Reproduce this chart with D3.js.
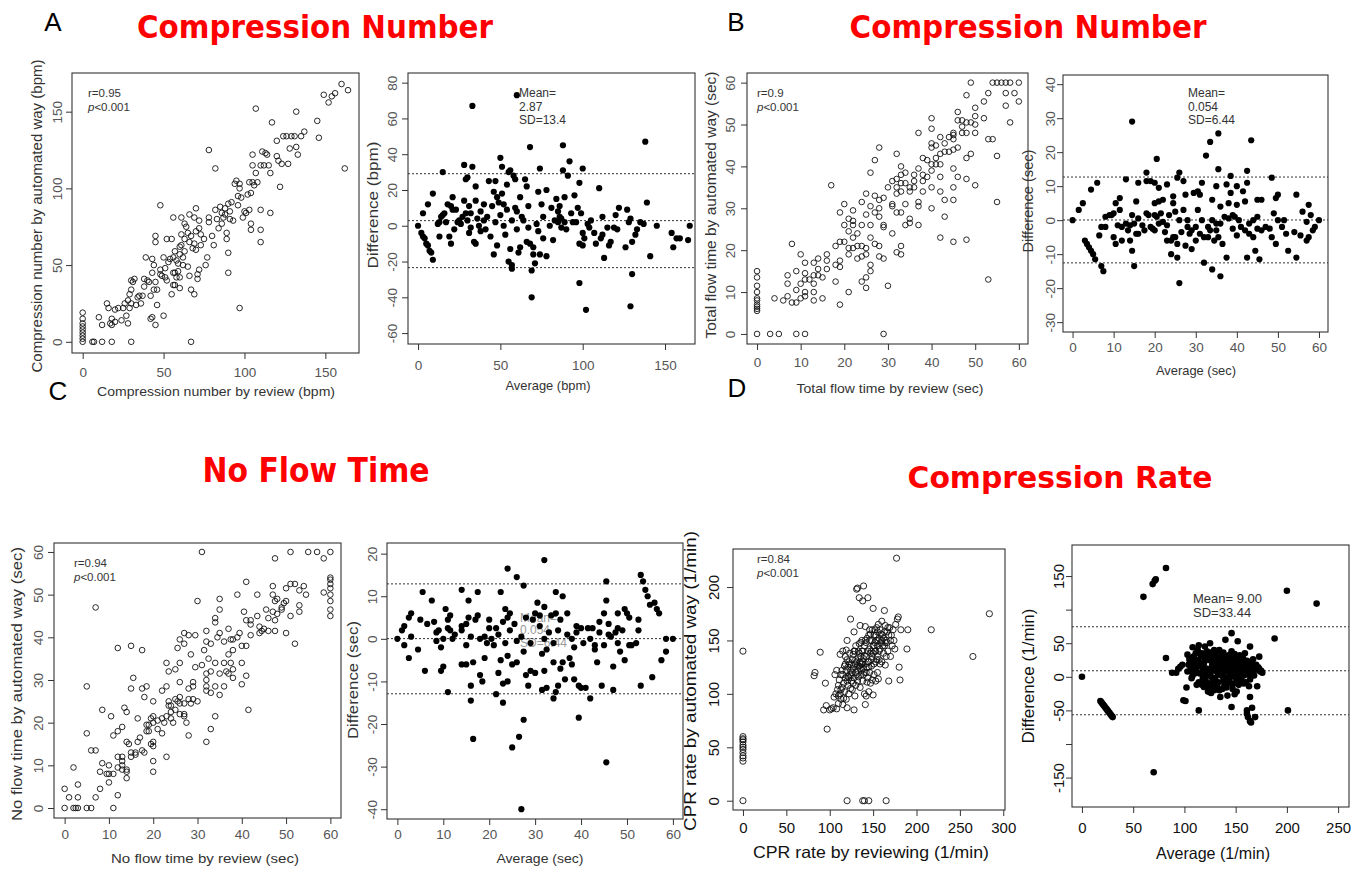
<!DOCTYPE html>
<html><head><meta charset="utf-8">
<script src="https://cdn.jsdelivr.net/npm/d3@7"></script>
<style>body{margin:0;background:#fff}svg{display:block;font-family:"Liberation Sans",Arial,sans-serif}</style>
</head><body><svg id="c" width="1367" height="873"></svg>
<script>
// ---------------- DATA ----------------
// A: Compression number, scatter (review, automated)
const cnScatter = [[0,0],[0,2],[0,4],[0,6],[0,8],[0,10],[0,12],[0,15],[0,19],[6,0],[7,0],[12,0],[18,0],[30,0],[67,0],
[10,16],[12,11],[15,25],[16,22],[17,12],[18,11],[18,15],[20,13],[20,21],[22,22],[24,14],[25,22],[26,25],[27,17],[28,12],[28,27],[29,22],[29,31],[30,34],[30,25],[30,40],[31,39],[32,41],[33,24],[34,29],[35,30],[36,25],[37,30],[38,41],[38,36],[39,55],[40,40],[41,39],[42,15],[42,30],[43,16],[43,45],[43,54],[44,50],[44,34],[45,11],[45,39],[45,65],[45,69],[46,34],[46,24],[48,89],[48,47],[48,44],[49,43],[50,17],[50,55],[51,48],[51,42],[52,40],[52,67],[53,52],[54,54],[55,67],[55,31],[56,45],[56,37],[56,55],[56,81],[57,59],[57,45],[57,37],[58,42],[58,53],[59,51],[59,46],[60,42],[60,35],[60,57],[60,62],[61,81],[61,63],[61,70],[62,55],[62,50],[63,77],[63,67],[63,59],[64,75],[65,49],[65,71],[66,83],[66,65],[66,43],[67,34],[67,69],[68,61],[69,81],[69,31],[69,64],[70,60],[70,72],[70,87],[71,41],[71,44],[72,47],[72,79],[72,74],[73,63],[73,70],[75,67],[76,50],[77,55],[78,125],[78,78],[78,81],[80,69],[81,63],[82,113],[82,86],[83,80],[84,74],[85,88],[86,84],[86,77],[87,81],[88,87],[88,83],[89,71],[89,67],[90,45],[90,58],[90,90],[91,85],[91,80],[92,91],[93,79],[94,103],[95,105],[96,89],[96,95],[97,100],[97,22],[97,103],[98,94],[99,81],[100,85],[101,84],[102,96],[103,104],[103,86],[104,97],[104,73],[104,77],[105,104],[105,122],[105,115],[106,102],[107,152],[107,110],[108,104],[110,115],[110,73],[110,86],[110,65],[111,124],[112,115],[113,123],[114,122],[115,115],[116,84],[116,110],[117,143],[120,121],[120,131],[121,118],[122,101],[123,116],[124,134],[126,134],[127,116],[128,126],[129,134],[131,134],[132,150],[132,127],[133,122],[135,134],[137,137],[145,144],[146,133],[149,161],[152,156],[154,160],[156,162],[160,168],[162,113],[164,164]];
// A: Compression number, Bland-Altman (average, difference)
const cnBland = [[0,0],[2,-4],[3,-6],[3,7],[4,-7],[5,-10],[6,12],[6,-11],[7,-14],[8,-15],[9,18],[9,-19],[12,1],[13,-6],[13,2],[14,5],[15,30],[15,6],[16,7],[17,2],[18,12],[19,-6],[20,-10],[20,11],[21,16],[21,9],[22,-2],[23,9],[24,2],[25,3],[26,1],[27,5],[28,14],[28,34],[29,7],[29,26],[30,27],[30,3],[31,11],[31,-4],[32,-1],[32,7],[33,33],[33,67],[34,-9],[35,22],[35,-10],[35,14],[36,4],[37,0],[38,-3],[38,8],[40,12],[40,3],[41,-2],[42,5],[43,25],[44,-6],[45,11],[46,19],[46,-16],[47,25],[47,2],[48,16],[48,-11],[49,13],[50,38],[50,6],[51,33],[51,18],[52,0],[52,12],[53,-5],[54,23],[54,9],[55,-20],[55,30],[56,31],[56,-13],[57,-22],[57,-24],[57,3],[58,28],[59,26],[59,10],[60,73],[60,-2],[60,8],[61,-15],[62,16],[62,-12],[63,5],[64,3],[65,26],[66,22],[66,-9],[67,11],[67,-1],[68,44],[68,-10],[69,-25],[69,-40],[70,-12],[70,-16],[71,-21],[72,1],[73,19],[73,-3],[74,32],[74,-16],[75,12],[76,-7],[76,5],[78,20],[78,-17],[80,0],[81,10],[82,-8],[83,3],[84,15],[85,2],[85,8],[86,11],[86,5],[87,4],[87,-1],[88,45],[88,31],[89,2],[89,16],[90,-2],[91,28],[92,36],[93,7],[94,2],[95,17],[96,2],[97,10],[98,-10],[98,24],[98,-32],[99,7],[100,32],[100,-11],[100,-4],[101,-7],[102,-47],[103,1],[104,-1],[105,3],[107,-4],[108,-10],[110,21],[111,-7],[112,5],[112,-5],[113,-18],[115,-1],[116,-11],[117,-9],[119,-1],[120,6],[121,-2],[122,10],[126,-12],[127,9],[128,2],[129,4],[129,-45],[130,-27],[130,-9],[132,-5],[133,-2],[135,2],[137,1],[138,47],[139,13],[141,-17],[145,0],[154,-4],[155,-12],[157,-7],[159,-7],[164,-8],[165,0]];
// B: Total flow time, scatter
const tfScatter = [[0,15],[0,13.5],[0,11.5],[0,10],[0,8.5],[0,8],[0,7],[0,6.5],[0,6],[0,5.5],[0,0],[3,0],[5,0],[9,0],[11,0],[29,0],
[4,8.5],[6,8],[7,9],[7,12],[7,14],[8,21.5],[8,7.5],[9,15],[9,10.5],[9,7.5],[10,12],[10,8.5],[10,19],[11,17],[11,13],[11,10],[11,9],[11,14.5],[12,13],[13,17],[13,14],[13,12],[13,8],[13,10],[14,18],[14,15.5],[14,14],[15,8.5],[15,13.5],[16,19],[16,17.5],[16,15.5],[17,35.5],[18,16.5],[18,12.5],[18,21],[19,22],[19,29],[19,17.5],[19,16],[19,7],[20,31],[20,26],[20,22],[21,27.5],[21,24.5],[21,20.5],[21,19],[21,10],[22,29.5],[22,27],[22,23],[22,20.5],[22,26],[23,24],[23,21],[23,18],[24,31.5],[24,26],[24,21],[24,18.5],[24,12.5],[25,33.5],[25,28.5],[25,20.5],[25,19],[25,13.5],[25,11],[26,38.5],[26,30.5],[26,26],[26,23],[26,16.5],[26,15],[27,41.5],[27,33],[27,29],[27,21.5],[28,44.5],[28,32],[28,30],[28,28],[28,18.5],[28,21],[29,32.5],[29,26],[29,25.5],[29,18],[30,11.5],[30,35],[31,36.5],[31,31],[31,30.5],[31,24],[32,43],[32,37],[32,35],[32,33.5],[32,29],[32,19.5],[33,40],[33,38],[33,36],[33,34],[33,29],[33,21],[33,19],[34,38.5],[34,36],[34,31],[34,26],[35,35],[35,34],[35,27.5],[35,26.5],[36,38],[36,36.5],[36,35],[37,48],[37,39.5],[37,31.5],[37,30.5],[37,26],[38,42],[38,38],[38,36.5],[38,34],[39,41.5],[39,37.5],[40,51.5],[40,49],[40,45.5],[40,44.5],[40,40.5],[40,39],[40,35],[40,30],[41,45],[41,42],[41,40.5],[42,47],[42,43],[42,40.5],[42,37.5],[42,34],[42,23],[43,45.5],[43,32],[43,28],[43,43.5],[44,43.5],[44,47],[45,48],[45,47.5],[45,46.5],[45,44],[45,39.5],[45,35],[45,32],[45,22],[46,53],[46,51],[46,44.5],[46,37.5],[47,51],[47,49.5],[47,48],[48,57],[48,50.5],[48,48],[48,42],[48,37],[48,22.5],[49,60],[49,50.5],[49,43],[50,54],[50,52],[50,50],[50,48],[50,35.5],[52,55.5],[52,51.5],[53,57.5],[53,46.5],[53,13],[54,60],[54,46.5],[55,60],[55,42.5],[55,31.5],[56,60],[57,60],[57,57.5],[57,54.5],[58,60],[58,50.5],[59,57.5],[60,60],[60,55.5]];
// B: Total flow time, Bland-Altman
const tfBland = [[0,0],[1.5,3],[2.5,5],[3,-6],[3.5,-7],[4,-8],[4.5,-9],[4.5,9],[5,-10],[5.5,-11.5],[6,11],[6.5,-4.5],[7,-13.5],[7,-2],[7.5,-15],[8,1],[8,-2],[9,1.5],[9.5,1.5],[10,-5],[10,2],[10.5,5],[10.5,-7],[11,-1.5],[11.5,6.5],[11.5,3],[12,-6],[12,-2],[13,12],[13,-1],[13.5,-3],[14,-1.5],[14,-6],[14.5,29],[14.5,-9],[14.5,1.5],[15,-13.5],[15,-1],[15.5,5.5],[15.5,-4],[16,11],[16,0.5],[16,-4],[17,-1.5],[17.5,-3],[18,14],[18,11.5],[18,2],[18.5,1.5],[19,11.5],[19,-2],[19.5,-2.5],[20,11],[20,5],[20,1.5],[20,-3],[20.5,18],[20.5,1],[21,5.5],[21,9.5],[21,-1],[21.5,2],[22,6],[22,-0.5],[22.5,-3.5],[23,10.5],[23,-1.5],[23,-6],[23.5,1.5],[24,-10],[24,-6],[24.5,7],[24.5,5],[24.5,-5],[25,2.5],[25,-5],[25.5,-11],[25.5,12.5],[25.5,-7],[26,14],[26,0],[26,-18.5],[26.5,-3.5],[27,11.5],[27,3],[27.5,7.5],[27.5,-7.5],[28,0],[28,-2],[28.5,-4],[29,-3],[29,-8.5],[29.5,8],[30,-6],[30,-2],[30.5,8.5],[30.5,3],[31,-4],[31,7.5],[31.5,11],[31.5,0],[32,-12.5],[32,-5],[32.5,19],[33,-2],[33,-5],[33.5,23],[33.5,-3],[34,6],[34,0],[34,-14.5],[34.5,-6],[35,10],[35,-1],[35,-3],[35.5,25.5],[35.5,15],[35.5,-5],[36,4],[36,-1],[36,-16.5],[36.5,-7],[37,1],[37.5,10.5],[37.5,-11],[38,5],[38,0.5],[38.5,8],[38.5,13],[39,1.5],[39,-2.5],[39.5,1],[40,10],[40,4.5],[40,-4.5],[40.5,0],[41,-2],[41.5,8.5],[42,-3],[42,5.5],[42.5,11],[42.5,14.5],[42.5,-11],[43,-4],[43,-1],[43.5,23.5],[44,0],[44,-5],[44.5,-9],[45,6],[45,1],[45,-2.5],[45.5,-11.5],[46,6],[46,-3],[47,-2],[48,-2.5],[48.5,-5],[48.5,12.5],[49,2],[49.5,-7],[49.5,6.5],[50,7.5],[50,0],[51,-2],[51.5,0],[52,-4],[52.5,-9],[54,-3.5],[54.5,7.5],[54.5,-11],[55.5,-4.5],[56,2.5],[57,-6],[57,-0.5],[57.5,-5],[57.5,4.5],[58,1.5],[58.5,-3],[59,-2],[60,0]];
// C: No flow time, scatter
const nfScatter = [[0,0],[0,4.5],[1,2.5],[2,0],[2,9.5],[2.5,0],[3,0],[3,2.5],[3,5.5],[5,0],[5,17.5],[5,28.5],[6,0],[6,13.5],[7,13.5],[7,2.5],[7,47],[8,4.5],[8,8.5],[8.5,10.5],[8.5,23],[9.5,8],[10,8],[10,6],[10,10],[10.5,21.5],[11,0],[11,8],[11,17],[12,3],[12,9.5],[12,12],[12,18],[12,37.5],[13,9],[13,10],[13,11],[13,12],[13,19],[13.5,23.5],[14,7],[14,8.5],[14,9],[14,15.5],[14,22.5],[14.5,15],[15,12],[15,13],[15,28],[15,38],[15.5,30.5],[16,12.5],[16,13],[16.5,15.5],[16.5,21],[17,16.5],[17.5,13.5],[17.5,28],[17.5,37],[18,13],[18,26],[18.5,28.5],[18.5,19.5],[18.5,18],[19,19.5],[19,18],[19.5,15],[19.5,21],[20,8.5],[20,11],[20,14.5],[20,15.5],[20,20],[20,25],[20,21.5],[21,18.5],[21,20.5],[22,17.5],[22,27.5],[22,21],[22.5,20],[23,12],[23,21.5],[23,28.5],[23,34],[23.5,24],[23.5,32],[23.5,25],[24,21],[24,22.5],[24,24],[24.5,20],[25,25.5],[25,23],[25,32.5],[25.5,37.5],[25.5,25],[26,22],[26,24.5],[26,26],[26,29.5],[26,34],[26,39.5],[27,21.5],[27,22],[27,24.5],[27,38.5],[27,41],[27.5,20],[28,17],[28,25.5],[28,28],[28,40.5],[28.5,36],[28.5,24.5],[29,25.5],[29,28.5],[29,29.5],[29.5,33],[29.5,40.5],[30,25],[30,48.5],[31,33.5],[31,60],[31.5,37],[32,15.5],[32,27.5],[32,28.5],[32,30],[32,31.5],[32,41.5],[32,39],[32.5,35],[33,18.5],[33,27],[33,32],[33,38.5],[34,21.5],[34,28.5],[34,34],[34,44.5],[34,43.5],[34.5,40],[35,26.5],[35,31.5],[35,41],[35,46.5],[35,49],[36,28.5],[36,34],[36,39],[36.5,32],[37,31.5],[37,36],[37,42],[37.5,34],[37.5,39.5],[38,30.5],[38,32.5],[38,37],[38,39.5],[39,40],[39,50],[39.5,41],[40,29],[40,34],[40,38],[40.5,46],[41,38],[41,31],[41,44],[41,53],[41.5,23],[42,40.5],[42,43],[42,44],[43.5,45],[43.5,50],[44,41],[44,42.5],[44.5,41.5],[45,42],[45.5,46.5],[46,44.5],[46,41.5],[47,46],[47,50],[47,52],[47.5,41.5],[47.5,44],[47.5,48.5],[47.5,58.5],[48,45.5],[48,49],[49,46.5],[49,47],[49.5,48],[50,41],[50,48.5],[50,51.5],[51,45],[51,52.5],[51,60],[52,38.5],[52,52.5],[53,46],[53,47.5],[53,51],[54,52],[54.5,50],[55,60],[57,60],[58.5,50.5],[58.5,58.5],[60,45],[60,46.5],[60,48.5],[60,50],[60,51.5],[60,52.5],[60,53.5],[60,54],[60,60]];
// C: No flow time, Bland-Altman
const nfBland = [[0,0],[1,2],[1.5,3],[1.5,-1.5],[2.5,-4.5],[2.5,5],[3,0.5],[3,6],[4.5,-2.5],[5,4.5],[5.5,11],[6,-7.5],[6.5,3.5],[7.5,9],[8,4],[8.5,-0.5],[8.5,1.5],[9,2],[9.5,-2],[9.5,-7.5],[10,0],[10,-6.5],[10.5,7],[11,2.5],[11,4.5],[11.5,5.5],[11,-12.5],[11.5,2],[12,0],[12.5,1],[14,11.5],[14,3],[14,2],[14,-6],[15,-1.5],[15,3.5],[15,-6],[15.5,9],[15.5,5],[16,-11],[16,-14.5],[16,0.5],[16.5,-5.5],[16.5,-23.5],[17,4.5],[17.5,11],[17.5,5.5],[18,-8.5],[18,0],[18.5,-10],[19,-4.5],[19,0.5],[19.5,-1],[20,4.5],[20,2.5],[20.5,0],[21,-1.5],[21.5,2.5],[21.5,-13],[22,-8],[22,1],[22.5,11],[22.5,-5],[23,-10.5],[23,-15],[23,4],[23.5,-1],[23.5,7],[24,-10],[24,5],[24,16.5],[24,-4],[24.5,2],[24.5,6],[25,-6],[25,-25.5],[25.5,3.5],[26,-0.5],[26,14.5],[26,-5.5],[26.5,-23],[27,0.5],[27,-40],[27.5,-19],[27.5,-3],[27.5,12.5],[28,-8.5],[28,5],[28.5,-11],[29,-7.5],[29,-1],[29.5,4.5],[30,6],[30,-8],[30.5,8.5],[31,3],[31,5.5],[31.5,-12],[31.5,-3.5],[32,0],[32,-7.5],[32,7.5],[32,18.5],[32.5,-2.5],[32.5,-11.5],[33,1.5],[33.5,5.5],[34,-14],[34,-5.5],[34,-1],[34.5,11],[34.5,-12.5],[34.5,6],[35,-11],[35,2],[35.5,-7],[35.5,4.5],[36,10],[36,-5.5],[36.5,-9.5],[37,6],[37,1],[37.5,-4.5],[38,0],[38,-6],[38.5,-9.5],[38.5,-2],[39,1.5],[39,3],[39.5,-18.5],[39.5,-11],[40,-11.5],[40,2.5],[40.5,-1],[41,-11.5],[41.5,2.5],[42,-14],[42,0],[42.5,2.5],[43,-1.5],[43,-2.5],[43.5,-5.5],[44,1.5],[44,4],[44.5,-11],[45,6],[45,-1.5],[45.5,13.5],[45.5,9],[45.5,-29],[46,3.5],[46,1],[46.5,0.5],[47,-6.5],[47,-12],[47.5,1.5],[48,2.5],[48,6],[48,-1],[48.5,-3],[49,2],[49.5,7],[49.5,-5],[50,6],[50.5,5],[50.5,-1.5],[51,-1.5],[52,-1],[52.5,4.5],[52.5,2],[53,15],[53.5,13.5],[53,-11],[54,11.5],[54.5,10],[55,8],[55.5,-9],[56,8.5],[56.5,7],[57,6],[57.5,-5],[58.5,-3],[58.5,0],[60,0]];
// D: Compression (CPR) rate, scatter
const crScatter = [[0,0],[0,37],[0,40],[0,42],[0,45],[0,48],[0,50],[0,52],[0,55],[0,57],[0,58],[0,60],[0,140],[120,0],[138,0],[140,0],[145,0],[165,0],
[82,117],[83,120],[89,139],[93,85],[95,110],[96,89],[97,67],[100,85],[102,86],[104,87],[105,97],[106,118],[107,100],[108,86],[108,122],[109,104],[110,91],[110,108],[111,113],[112,100],[112,137],[113,118],[113,95],[114,122],[114,106],[115,90],[115,140],[116,110],[117,102],[117,126],[118,135],[118,115],[119,95],[119,141],[120,87],[120,150],[120,112],[121,108],[121,125],[122,130],[122,100],[123,138],[123,118],[124,170],[124,105],[125,112],[125,127],[126,104],[126,120],[127,137],[128,115],[128,158],[128,85],[129,98],[129,128],[130,120],[130,145],[130,108],[131,198],[131,130],[132,122],[132,199],[132,112],[133,140],[133,116],[134,190],[134,126],[134,147],[135,130],[135,106],[135,164],[136,118],[136,135],[137,122],[137,128],[137,150],[138,187],[138,112],[138,140],[139,201],[139,133],[139,118],[140,100],[140,145],[140,120],[141,128],[141,163],[141,90],[142,98],[142,135],[143,125],[143,111],[144,190],[144,115],[144,140],[145,102],[145,155],[145,130],[146,120],[146,160],[147,138],[147,110],[148,126],[148,150],[149,135],[149,113],[150,180],[150,99],[150,145],[151,128],[151,155],[152,140],[152,160],[153,130],[153,112],[154,162],[154,150],[155,145],[155,120],[155,135],[156,165],[156,114],[157,152],[157,140],[158,160],[158,128],[159,148],[160,168],[160,130],[161,155],[162,138],[163,178],[163,145],[164,164],[164,127],[165,150],[165,135],[166,158],[167,140],[168,112],[169,162],[170,135],[171,155],[172,145],[173,160],[174,150],[175,142],[176,165],[177,227],[178,170],[179,172],[180,125],[181,113],[182,160],[189,142],[190,160],[217,160],[265,135],[284,175],
[115,118],[118,128],[120,132],[122,115],[124,122],[126,132],[127,110],[129,140],[131,118],[133,134],[135,124],[136,148],[138,130],[140,136],[142,148],[143,152],[145,125],[146,142],[147,156],[148,132],[150,138],[151,118],[152,148],[153,155],[155,158],[157,132],[159,156],[161,145],[162,152],[166,148],[168,155],[170,150],
[110,98],[113,104],[116,96],[119,122],[121,116],[123,128],[125,118],[127,124],[128,140],[130,132],[132,126],[134,138],[136,128],[137,140],[139,124],[141,150],[142,120],[144,130],[146,150],[148,140],[149,160],[151,145],[153,140],[154,132],[156,150],[158,142],[160,150],[163,158],[164,148],[167,162]];
// D: Compression (CPR) rate, Bland-Altman
const crBland = [[0,0],[18,-36],[19,-38],[20,-40],[21,-42],[22,-44],[23,-46],[24,-48],[25,-50],[26,-52],[27,-54],[28,-56],[29,-58],[30,-60],[60,119],[69,138],[71,143],[72,145],[82,162],[70,-142],[82,28],[88,6],[92,6],[94,12],[96,15],[98,18],[99,-35],[101,-36],[102,-16],[103,33],[103,8],[105,25],[106,20],[107,13],[108,44],[109,30],[110,5],[110,22],[112,-12],[113,40],[114,47],[114,-50],[115,16],[116,30],[117,-12],[118,9],[119,20],[120,45],[120,-5],[121,2],[122,12],[122,38],[123,-22],[124,25],[125,50],[125,5],[126,-24],[127,16],[127,-12],[128,30],[129,10],[129,-20],[130,-2],[130,35],[131,20],[132,15],[133,-8],[133,4],[134,40],[134,28],[135,-30],[135,10],[136,22],[137,18],[137,-18],[138,0],[138,12],[139,30],[139,-12],[140,55],[140,8],[141,20],[142,-5],[142,-28],[143,15],[144,25],[144,5],[145,-10],[146,65],[146,38],[146,-45],[147,18],[147,-18],[148,12],[148,28],[149,-26],[149,0],[150,8],[150,20],[151,-22],[152,53],[152,15],[153,30],[154,-2],[155,10],[156,25],[157,5],[158,15],[159,35],[160,-8],[160,20],[161,-50],[161,-55],[162,5],[162,-60],[163,12],[164,45],[164,-30],[164,-66],[165,-68],[166,-46],[167,15],[168,10],[169,-60],[170,12],[171,-14],[172,10],[173,30],[174,8],[176,6],[188,57],[200,128],[201,-50],[229,109],
[104,18],[106,10],[108,2],[111,15],[113,25],[115,5],[117,35],[118,-2],[120,28],[121,12],[123,6],[124,-15],[126,32],[127,22],[128,-5],[129,40],[131,8],[132,-14],[133,26],[134,12],[136,2],[136,34],[138,-6],[139,18],[140,24],[141,-16],[142,10],[143,32],[144,-3],[145,14],[146,22],[147,4],[148,-10],[149,34],[150,0],[151,12],[152,26],[153,-12],[154,18],[155,4],[156,-6],[157,28],[158,2],[159,14],[160,10],[161,24],[162,18],[163,-14],[165,8],[166,20],[168,2],[170,18],[172,14],[173,12],[175,9],
[105,28],[107,-2],[109,16],[111,35],[112,8],[114,-8],[116,20],[118,14],[119,-15],[121,30],[122,-8],[124,10],[125,36],[126,0],[128,18],[130,12],[131,-10],[132,28],[134,-20],[135,24],[137,6],[138,36],[140,-2],[141,10],[143,-8],[144,18],[146,8],[147,30],[149,16],[151,-4],[153,8],[154,32],[156,12],[158,-10],[159,24],[161,4],[163,22],[164,-4],[166,2],[167,26]];

// tick values
const cnScatterTicks = [0,50,100,150];
const cnBlandYTicks = [-60,-40,-20,0,20,40,60,80];
const secTicks = [0,10,20,30,40,50,60];
const tfBlandYTicks = [-30,-20,-10,0,10,20,30,40];
const nfBlandYTicks = [-40,-30,-20,-10,0,10,20];
const crScatterXTicks = [0,50,100,150,200,250,300];
const crScatterYTicks = [0,50,100,150,200];
const crBlandXTicks = [0,50,100,150,200,250];
const crBlandYTicks = [-150,-100,-50,0,50,100,150];
const crBlandYLabels = [-150,-50,0,50,150];
// limits of agreement (mean, mean ± 1.96 SD)
const cnBlandLines = [29.1, 2.87, -23.4];
const tfBlandLines = [12.68, 0.054, -12.57];
const nfBlandLines = [12.9, 0.05, -12.9];
const crBlandLines = [74.5, 9.0, -56.5];

// ---------------- DRAWING ----------------
const svg = d3.select('#c');

function txt(g, s, o){
  const t = g.append('text').text(s)
    .attr('x', o.x).attr('y', o.y)
    .attr('font-size', o.fs || 12)
    .attr('fill', o.fill || '#333')
    .attr('text-anchor', o.anchor || 'middle')
    .attr('dominant-baseline', o.base || 'central');
  if (o.weight) t.attr('font-weight', o.weight);
  if (o.family) t.attr('font-family', o.family);
  if (o.len) t.attr('textLength', o.len).attr('lengthAdjust', 'spacingAndGlyphs');
  if (o.rot) t.attr('transform', `rotate(-90,${o.x},${o.y})`);
  return t;
}

function panel(p){
  const [l,t,r,b] = p.box;
  const x = d3.scaleLinear().domain(p.xd).range([l,r]);
  const y = d3.scaleLinear().domain(p.yd).range([b,t]);
  const g = svg.append('g');

  (p.backNotes||[]).forEach(n => txt(g, n[0], {x:n[1], y:n[2], fs:12, fill:'#9a9a9a', anchor:'start'}));

  (p.lines||[]).forEach(v => g.append('line')
    .attr('x1', l).attr('x2', r).attr('y1', y(v)).attr('y2', y(v))
    .attr('stroke', '#333').attr('stroke-width', 1).attr('stroke-dasharray', '2,2'));

  const pts = g.append('g');
  pts.selectAll('circle').data(p.data).join('circle')
    .attr('cx', d => x(d[0])).attr('cy', d => y(d[1]))
    .attr('r', p.open ? (p.r||2.8) : (p.r||3.1))
    .attr('fill', p.open ? 'none' : '#000')
    .attr('stroke', p.open ? '#111' : 'none')
    .attr('stroke-width', 0.9);

  g.append('rect').attr('x', l).attr('y', t).attr('width', r-l).attr('height', b-t)
    .attr('fill', 'none').attr('stroke', '#333').attr('stroke-width', 1.1);

  const tc = p.tickColor || '#555', tf = p.tickFs || 13.5;
  const fmt = p.yLabels ? (d => p.yLabels.includes(d) ? String(d) : '') : (d => String(d));
  const xa = g.append('g').attr('transform', `translate(0,${b})`)
    .call(d3.axisBottom(x).tickValues(p.xt).tickSize(6).tickFormat(d => String(d)));
  xa.select('.domain').remove();
  xa.selectAll('line').attr('stroke', '#333');
  xa.selectAll('text').attr('y', p.xTickY - b).attr('dy', null)
    .attr('dominant-baseline', 'central').attr('fill', tc)
    .attr('font-size', tf).attr('font-family', '"Liberation Sans",Arial,sans-serif');

  const ya = g.append('g').attr('transform', `translate(${l},0)`)
    .call(d3.axisLeft(y).tickValues(p.yt).tickSize(6).tickFormat(fmt));
  ya.select('.domain').remove();
  ya.selectAll('line').attr('stroke', '#333');
  ya.selectAll('text').attr('x', 0).attr('dy', null)
    .attr('transform', `translate(${p.yTickX - l},0) rotate(-90)`)
    .attr('text-anchor', 'middle').attr('dominant-baseline', 'central')
    .attr('fill', tc).attr('font-size', tf).attr('font-family', '"Liberation Sans",Arial,sans-serif');

  const lc = p.labColor || '#333';
  txt(g, p.xlab[0], {x:p.xlab[1], y:p.xlab[2], len:p.xlab[3], fs:p.xlab[4], fill:lc});
  txt(g, p.ylab[0], {x:p.ylab[1], y:p.ylab[2], len:p.ylab[3], fs:p.ylab[4], fill:lc, rot:true});

  (p.notes||[]).forEach(n => txt(g, n[0], {x:n[1], y:n[2], fs:n[3]||12, fill:'#333', anchor:'start'}));
  if (p.rp){
    txt(g, p.rp[0], {x:p.rp[1], y:p.rp[2], fs:11.5, anchor:'start'});
    const tt = g.append('text').attr('x', p.rp[1]).attr('y', p.rp[2]+13.5)
      .attr('font-size', 11.5).attr('fill', '#333').attr('dominant-baseline', 'central');
    tt.append('tspan').attr('font-style', 'italic').text('p');
    tt.append('tspan').text('<0.001');
  }
}

// A
panel({box:[72,73,359,353], xd:[-6.6,170.8], yd:[-7.3,175.2], xt:cnScatterTicks, yt:cnScatterTicks,
  data:cnScatter, open:true, xTickY:372, yTickX:57,
  xlab:['Compression number by review (bpm)',216,391,238,13.5],
  ylab:['Compression number by automated way (bpm)',36,216,313,15], rp:['r=0.95',88,93]});
panel({box:[408,73,695,344], xd:[-6.1,168.2], yd:[-66.1,85.4], xt:cnScatterTicks, yt:cnBlandYTicks,
  data:cnBland, open:false, xTickY:365, yTickX:392, lines:cnBlandLines,
  xlab:['Average (bpm)',548,385,85,13],
  ylab:['Difference (bpm)',372,205,127,15],
  notes:[['Mean=',519,93],['2.87',519,107],['SD=13.4',519,120]]});
// B
panel({box:[747,73,1028,344], xd:[-2.3,62.1], yd:[-2.4,62.3], xt:secTicks, yt:secTicks,
  data:tfScatter, open:true, xTickY:362, yTickX:730,
  xlab:['Total flow time by review (sec)',890,388,187,13],
  ylab:['Total flow time by automated way (sec)',710,205,267,15], rp:['r=0.9',757,93]});
panel({box:[1063,75,1328,332], xd:[-2.33,62.2], yd:[-32.9,42.7], xt:secTicks, yt:tfBlandYTicks,
  data:tfBland, open:false, xTickY:347, yTickX:1050, lines:tfBlandLines,
  xlab:['Average (sec)',1196,370,80,13],
  ylab:['Difference (sec)',1028,201,103,14],
  notes:[['Mean=',1188,93],['0.054',1188,107],['SD=6.44',1188,120]]});
// C
panel({box:[54,543,341,818], xd:[-2.4,62.4], yd:[-2.34,62.1], xt:secTicks, yt:secTicks,
  data:nfScatter, open:true, xTickY:834, yTickX:38,
  xlab:['No flow time by review (sec)',205,858,188,13],
  ylab:['No flow time by automated way (sec)',16,684,274,15], rp:['r=0.94',74,563]});
panel({box:[387,543,683,819], xd:[-2.26,62.2], yd:[-42.3,22.5], xt:secTicks, yt:nfBlandYTicks,
  data:nfBland, open:false, xTickY:834, yTickX:372, lines:nfBlandLines,
  backNotes:[['Mean=',520,618],['0.054',520,630],['SD=6.44',520,643]],
  xlab:['Average (sec)',540,858,87,13],
  ylab:['Difference (sec)',353,680,118,14]});
// D
panel({box:[733,549,1005,810], xd:[-11.5,302], yd:[-8.7,235.6], xt:crScatterXTicks, yt:crScatterYTicks,
  data:crScatter, open:true, r:3.1, xTickY:827, yTickX:713, tickColor:'#111', tickFs:15, labColor:'#111',
  xlab:['CPR rate by reviewing (1/min)',871,852,236,16.5],
  ylab:['CPR rate by automated way (1/min)',690,681,300,17], rp:['r=0.84',757,559]});
panel({box:[1072,545,1349,807], xd:[-9.7,260.6], yd:[-193.8,196.2], xt:crBlandXTicks, yt:crBlandYTicks, yLabels:crBlandYLabels,
  data:crBland, open:false, r:3.3, xTickY:827, yTickX:1058, lines:crBlandLines, tickColor:'#111', tickFs:15, labColor:'#111',
  xlab:['Average (1/min)',1213,853,114,16.5],
  ylab:['Difference (1/min)',1028,676,135,17],
  notes:[['Mean= 9.00',1193,598,13],['SD=33.44',1193,612,13]]});

// panel letters and titles
const labelLayer = svg.append('g');
[['A',53,31],['B',736,31],['C',58,400],['D',737,397]].forEach(d =>
  txt(labelLayer, d[0], {x:d[1], y:d[2], fs:26, fill:'#000', base:'alphabetic'}));
[['Compression Number',315,38,356,32],['Compression Number',1028,38,357,32],
 ['No Flow Time',316,482,227,33],['Compression Rate',1060,488,305,31]].forEach(d =>
  txt(labelLayer, d[0], {x:d[1], y:d[2], len:d[3], fs:d[4], fill:'#ff0000', weight:'bold', base:'alphabetic',
    family:'"DejaVu Sans","Liberation Sans",sans-serif'}));
</script></body></html>
